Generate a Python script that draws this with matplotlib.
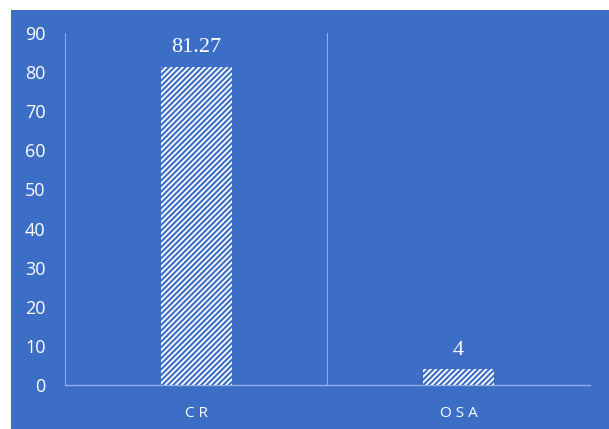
import matplotlib.pyplot as plt
from matplotlib.patches import Rectangle

# data
categories = ['C R', 'O S A']
values = [81.27, 4]
value_labels = ['81.27', '4']
yticks = [0, 10, 20, 30, 40, 50, 60, 70, 80, 90]

blue = '#3d6ec6'
line_col = '#8fb0e6'

fig = plt.figure(figsize=(6.09, 4.29), dpi=100)
fig.patch.set_facecolor('white')
# blue chart background
fig.patches.append(Rectangle((0.018, 0.0), 0.99, 0.977, transform=fig.transFigure,
                             facecolor=blue, edgecolor='none', zorder=-5))

ax = fig.add_axes([0.107, 0.1026, 0.861, 0.8204])
ax.set_facecolor('none')

plt.rcParams['hatch.linewidth'] = 1.3
x = range(len(categories))
bars = ax.bar(x, values, width=0.27, facecolor=blue, edgecolor='white',
              hatch='//////', linewidth=0, zorder=3)

for i, v in enumerate(values):
    ax.text(i, v + 2.5, value_labels[i], ha='center', va='bottom',
            color='white', fontsize=16, family='Liberation Serif')

ax.set_xlim(-0.5, len(categories) - 0.5)
ax.set_ylim(0, 90)
ax.set_yticks(yticks)
ax.set_xticks(list(x))
ax.set_xticklabels(categories)

for s in ['top', 'right', 'left']:
    ax.spines[s].set_visible(False)
ax.spines['bottom'].set_color(line_col)
ax.spines['bottom'].set_linewidth(1)

for xb in [-0.5, 0.5, 1.5]:
    ax.axvline(xb, color=line_col, linewidth=0.8, zorder=1)

ax.tick_params(axis='y', length=0, pad=14, labelsize=13, labelcolor='white')
ax.tick_params(axis='x', length=0, pad=15, labelsize=11, labelcolor='white')
for lab in ax.get_yticklabels() + ax.get_xticklabels():
    lab.set_family('Open Sans')

plt.savefig('out.png', dpi=100, facecolor=fig.get_facecolor())
